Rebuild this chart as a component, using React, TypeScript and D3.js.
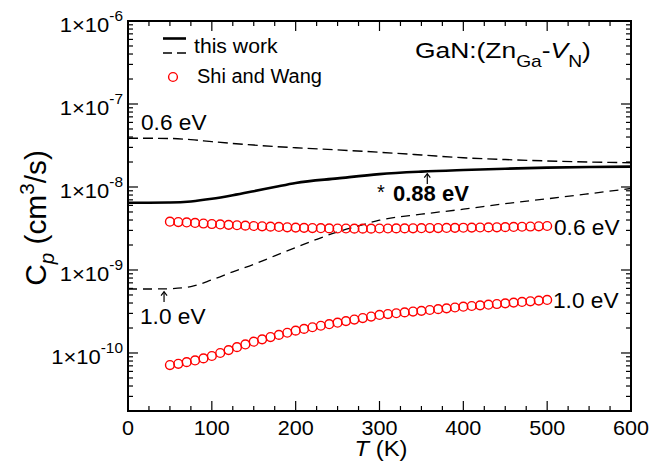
import React from 'react';
import * as d3 from 'd3';

const W = 652, H = 464;
const M = { left: 128, right: 631, top: 21, bottom: 411 };

const xTicks = [0, 100, 200, 300, 400, 500, 600];
const yDecades = [-10, -9, -8, -7, -6];

// this work, 0.88 eV (solid)
const tSolid = [0, 25, 50, 75, 100, 125, 150, 175, 200, 250, 300, 350, 400, 450, 500, 550, 600];
const vSolid = [6.47e-9, 6.47e-9, 6.5e-9, 6.7e-9, 7.2e-9, 7.95e-9, 8.9e-9, 1.0e-8, 1.12e-8, 1.27e-8, 1.43e-8, 1.53e-8, 1.6e-8, 1.66e-8, 1.71e-8, 1.74e-8, 1.76e-8];

// this work, 0.6 eV (dashed, upper)
const tDash06 = [0, 25, 50, 75, 100, 150, 200, 250, 300, 350, 400, 450, 500, 550, 600];
const vDash06 = [3.86e-8, 3.86e-8, 3.84e-8, 3.72e-8, 3.52e-8, 3.2e-8, 2.97e-8, 2.8e-8, 2.62e-8, 2.43e-8, 2.25e-8, 2.14e-8, 2.06e-8, 2.0e-8, 1.96e-8];

// this work, 1.0 eV (dashed, lower)
const tDash10 = [0, 25, 50, 75, 100, 125, 150, 175, 200, 225, 250, 275, 300, 350, 400, 450, 500, 550, 600];
const vDash10 = [5.9e-10, 5.9e-10, 5.95e-10, 6.3e-10, 7.6e-10, 9.5e-10, 1.17e-9, 1.48e-9, 1.86e-9, 2.34e-9, 2.88e-9, 3.39e-9, 3.98e-9, 4.7e-9, 5.4e-9, 6.3e-9, 7.2e-9, 8.3e-9, 9.6e-9];

// Shi and Wang (circles)
const tShi = [50, 60, 70, 80, 90, 100, 110, 120, 130, 140, 150, 160, 170, 180, 190, 200, 210, 220, 230, 240, 250, 260, 270, 280, 290, 300, 310, 320, 330, 340, 350, 360, 370, 380, 390, 400, 410, 420, 430, 440, 450, 460, 470, 480, 490, 500];
const vShi06 = [3.82e-9, 3.78e-9, 3.74e-9, 3.69e-9, 3.63e-9, 3.58e-9, 3.54e-9, 3.5e-9, 3.46e-9, 3.42e-9, 3.39e-9, 3.36e-9, 3.33e-9, 3.3e-9, 3.27e-9, 3.24e-9, 3.22e-9, 3.2e-9, 3.19e-9, 3.17e-9, 3.16e-9, 3.16e-9, 3.15e-9, 3.15e-9, 3.15e-9, 3.16e-9, 3.16e-9, 3.17e-9, 3.17e-9, 3.18e-9, 3.19e-9, 3.2e-9, 3.2e-9, 3.21e-9, 3.22e-9, 3.23e-9, 3.24e-9, 3.25e-9, 3.26e-9, 3.27e-9, 3.28e-9, 3.3e-9, 3.32e-9, 3.34e-9, 3.36e-9, 3.39e-9];
const vShi10 = [7.16e-11, 7.41e-11, 7.76e-11, 8.13e-11, 8.61e-11, 9.2e-11, 1.0e-10, 1.084e-10, 1.175e-10, 1.268e-10, 1.368e-10, 1.459e-10, 1.556e-10, 1.652e-10, 1.754e-10, 1.858e-10, 1.95e-10, 2.042e-10, 2.128e-10, 2.223e-10, 2.317e-10, 2.421e-10, 2.529e-10, 2.636e-10, 2.748e-10, 2.871e-10, 2.944e-10, 3.013e-10, 3.083e-10, 3.155e-10, 3.221e-10, 3.296e-10, 3.373e-10, 3.451e-10, 3.532e-10, 3.614e-10, 3.681e-10, 3.75e-10, 3.819e-10, 3.89e-10, 3.963e-10, 4.046e-10, 4.121e-10, 4.198e-10, 4.276e-10, 4.355e-10];

const FONT = "'Liberation Sans', Arial, Helvetica, sans-serif";

function ST(props: { x: number; y: number; sx?: number; size: number; anchor?: string; weight?: string; rotate?: number; children: any }) {
  const { x, y, sx = 1, size, anchor = 'start', weight = 'normal', rotate = 0, children } = props;
  return (
    <text
      transform={`translate(${x},${y}) rotate(${rotate}) scale(${sx},1)`}
      fontSize={size}
      textAnchor={anchor as any}
      fontWeight={weight}
      fill="#000"
    >
      {children}
    </text>
  );
}

export default function App() {
  const x = d3.scaleLinear().domain([0, 600]).range([M.left, M.right]);
  const y = d3.scaleLog().domain([2e-11, 1e-6]).range([M.bottom, M.top]);

  const line = (ts: number[], vs: number[]) =>
    d3.line<number>().x((_, i) => x(ts[i])).y((v) => y(v)).curve(d3.curveMonotoneX)(vs) || '';

  const xMinor = d3.range(0, 601, 25).filter((t) => t % 100 !== 0);
  const yMinor: number[] = [];
  for (let d = -11; d <= -7; d++) {
    for (let m = 2; m <= 9; m++) {
      const v = m * Math.pow(10, d);
      if (v >= 2e-11 && v <= 1e-6) yMinor.push(v);
    }
  }

  const arrow = (ax: number, yTip: number, yTail: number) => (
    <g stroke="#000" strokeWidth={1.2} fill="none">
      <line x1={ax} x2={ax} y1={yTail} y2={yTip} />
      <path d={`M${ax - 3},${yTip + 4} L${ax},${yTip} L${ax + 3},${yTip + 4}`} />
    </g>
  );

  return (
    <svg width={W} height={H} style={{ position: 'absolute', left: 0, top: 0, background: '#fff' }} fontFamily={FONT}>
      <rect x={0} y={0} width={W} height={H} fill="#fff" />
      {/* curves */}
      <path d={line(tDash06, vDash06)} fill="none" stroke="#000" strokeWidth={1.4} strokeDasharray="10,5" />
      <path d={line(tDash10, vDash10)} fill="none" stroke="#000" strokeWidth={1.3} strokeDasharray="9,6" />
      <path d={line(tSolid, vSolid)} fill="none" stroke="#000" strokeWidth={2.6} />
      {vShi06.map((v, i) => (
        <circle key={'a' + i} cx={x(tShi[i])} cy={y(v)} r={4.4} fill="none" stroke="#ff0000" strokeWidth={1.4} />
      ))}
      {vShi10.map((v, i) => (
        <circle key={'b' + i} cx={x(tShi[i])} cy={y(v)} r={4.4} fill="none" stroke="#ff0000" strokeWidth={1.4} />
      ))}

      {/* frame */}
      <rect x={M.left} y={M.top} width={M.right - M.left} height={M.bottom - M.top} fill="none" stroke="#000" strokeWidth={2} />
      {/* ticks */}
      <g stroke="#000" strokeWidth={1.2}>
        {xTicks.map((t) => (
          <g key={'xt' + t}>
            <line x1={x(t)} x2={x(t)} y1={M.bottom} y2={M.bottom - 10} />
            <line x1={x(t)} x2={x(t)} y1={M.top} y2={M.top + 10} />
          </g>
        ))}
        {xMinor.map((t) => (
          <g key={'xm' + t}>
            <line x1={x(t)} x2={x(t)} y1={M.bottom} y2={M.bottom - 5} />
            <line x1={x(t)} x2={x(t)} y1={M.top} y2={M.top + 5} />
          </g>
        ))}
        {yDecades.map((d) => (
          <g key={'yt' + d}>
            <line x1={M.left} x2={M.left + 10} y1={y(Math.pow(10, d))} y2={y(Math.pow(10, d))} />
            <line x1={M.right} x2={M.right - 10} y1={y(Math.pow(10, d))} y2={y(Math.pow(10, d))} />
          </g>
        ))}
        {yMinor.map((v, i) => (
          <g key={'ym' + i}>
            <line x1={M.left} x2={M.left + 5} y1={y(v)} y2={y(v)} />
            <line x1={M.right} x2={M.right - 5} y1={y(v)} y2={y(v)} />
          </g>
        ))}
      </g>
      {/* x tick labels */}
      {xTicks.map((t) => (
        <ST key={'xl' + t} x={x(t)} y={435} size={20} sx={1.08} anchor="middle">{t}</ST>
      ))}
      {/* y tick labels */}
      {yDecades.map((d) => (
        <ST key={'yl' + d} x={123} y={y(Math.pow(10, d)) + 11} size={20} sx={1.1} anchor="end">
          1×10<tspan fontSize={14} dy={-11}>{String(d)}</tspan>
        </ST>
      ))}
      {/* axis titles */}
      <ST x={381} y={456} size={22} sx={1.08} anchor="middle">
        <tspan fontStyle="italic">T</tspan> (K)
      </ST>
      <ST x={46} y={218} size={29} sx={1.03} anchor="middle" rotate={-90}>
        C<tspan fontSize={20} fontStyle="italic" dy={8}>p</tspan>
        <tspan dy={-8}> (cm</tspan>
        <tspan fontSize={20} dy={-12}>3</tspan>
        <tspan dy={12}>/s)</tspan>
      </ST>

      {/* legend */}
      <line x1={163} x2={186} y1={38.5} y2={38.5} stroke="#000" strokeWidth={2.6} />
      <line x1={163} x2={186} y1={53} y2={53} stroke="#000" strokeWidth={1.4} strokeDasharray="9,5" />
      <ST x={194} y={53} size={20} sx={1.06}>this work</ST>
      <circle cx={173} cy={77} r={4.4} fill="none" stroke="#ff0000" strokeWidth={1.4} />
      <ST x={197} y={83} size={20} sx={1.0}>Shi and Wang</ST>

      {/* title */}
      <ST x={415} y={58} size={22} sx={1.2}>
        GaN:(Zn<tspan fontSize={16} dy={9}>Ga</tspan>
        <tspan dy={-9}>-</tspan>
        <tspan fontStyle="italic">V</tspan>
        <tspan fontSize={16} dy={9}>N</tspan>
        <tspan dy={-9}>)</tspan>
      </ST>

      {/* annotations */}
      <ST x={141} y={130} size={22} sx={1.03}>0.6 eV</ST>
      <ST x={377} y={199} size={20}>*</ST>
      <ST x={393} y={201} size={22} weight="bold">0.88 eV</ST>
      {arrow(x(357), y(1.53e-8) + 2, 184)}
      <ST x={554} y={235} size={22} sx={1.03}>0.6 eV</ST>
      <ST x={553} y={308} size={22} sx={1.03}>1.0 eV</ST>
      {arrow(x(43), y(5.95e-10) + 3, 302)}
      <ST x={140} y={324} size={22} sx={1.03}>1.0 eV</ST>
    </svg>
  );
}
